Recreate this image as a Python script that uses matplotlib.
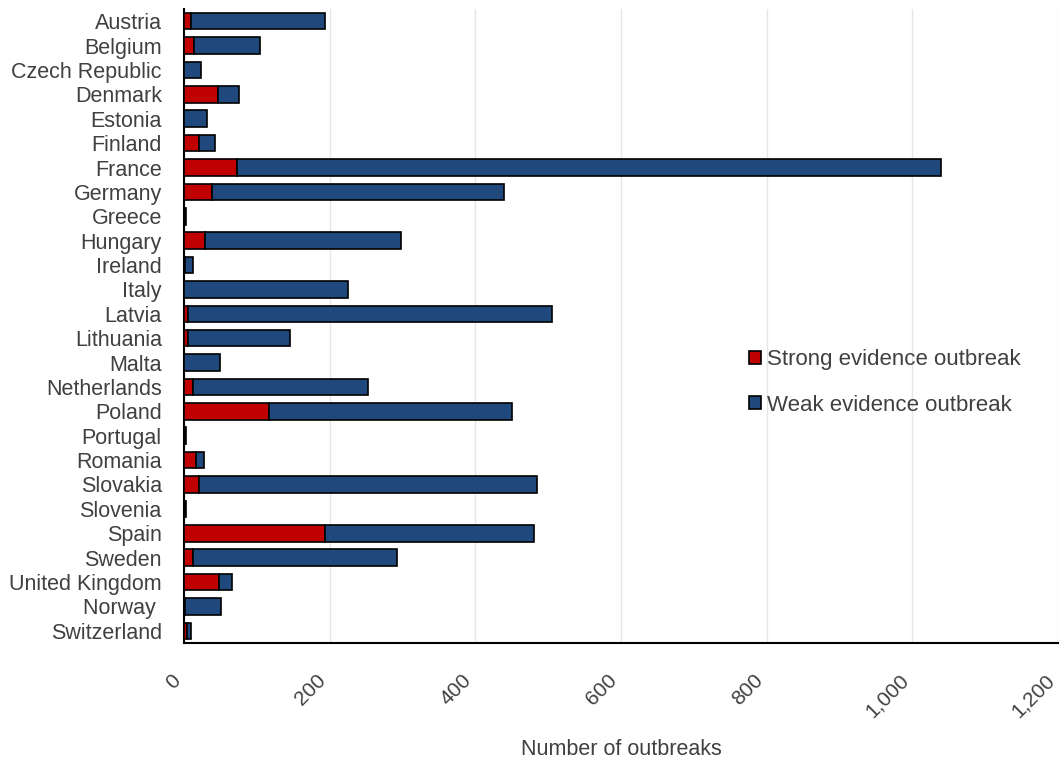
import matplotlib
matplotlib.use("Agg")
import matplotlib.pyplot as plt
import numpy as np
from matplotlib.ticker import FuncFormatter

countries = ["Austria", "Belgium", "Czech Republic", "Denmark", "Estonia", "Finland",
             "France", "Germany", "Greece", "Hungary", "Ireland", "Italy", "Latvia",
             "Lithuania", "Malta", "Netherlands", "Poland", "Portugal", "Romania",
             "Slovakia", "Slovenia", "Spain", "Sweden", "United Kingdom", "Norway ",
             "Switzerland"]
strong = [9, 14, 0, 46, 0, 21, 73, 38, 1, 29, 2, 0, 5,
          5, 0, 12, 117, 1, 16, 20, 1, 194, 12, 48, 2, 4]
total = [193, 105, 24, 75, 32, 42, 1040, 439, 3, 298, 12, 225, 505,
         146, 49, 252, 451, 3, 27, 485, 3, 480, 293, 66, 51, 10]
weak = [t - s for t, s in zip(total, strong)]

series_labels = ["Strong evidence outbreak", "Weak evidence outbreak"]
xticks = [0, 200, 400, 600, 800, 1000, 1200]

plt.rcParams['font.family'] = ['Liberation Sans', 'DejaVu Sans']
txt = '#404040'
red = '#C00000'
blue = '#1F497D'

fig = plt.figure(figsize=(10.62, 7.63), dpi=100)
ax = fig.add_axes([184/1062, 120/763, 874/1062, 634/763])

y = np.arange(len(countries))
ax.barh(y, strong, height=0.68, color=red, edgecolor='black', linewidth=1.2,
        label=series_labels[0], zorder=3)
ax.barh(y, weak, left=strong, height=0.68, color=blue, edgecolor='black', linewidth=1.2,
        label=series_labels[1], zorder=3)

ax.set_ylim(len(countries) - 0.5, -0.5)
ax.set_xlim(0, 1200)
ax.set_yticks(y)
ax.set_yticklabels(countries, fontsize=15.5, color=txt)
ax.set_xticks(xticks)
ax.xaxis.set_major_formatter(FuncFormatter(lambda v, p: f"{int(v):,}"))
for lab in ax.get_xticklabels():
    lab.set_rotation(45)
    lab.set_ha('right')
    lab.set_fontsize(15)
    lab.set_color(txt)
ax.tick_params(axis='x', length=0, pad=20)
ax.tick_params(axis='y', length=0, pad=16)
ax.grid(axis='x', color='#E6E6E6', linewidth=1, zorder=0)
for s in ['top', 'right']:
    ax.spines[s].set_visible(False)
ax.spines['left'].set_color('black')
ax.spines['left'].set_linewidth(1.5)
ax.spines['bottom'].set_color('black')
ax.spines['bottom'].set_linewidth(1.5)
ax.set_xlabel("Number of outbreaks", fontsize=15.5, color=txt, labelpad=13)

leg = ax.legend(loc='upper left', bbox_to_anchor=(0.623, 0.495), frameon=False,
                fontsize=16, handlelength=0.55, handleheight=0.55, handletextpad=0.3,
                labelspacing=1.1, labelcolor=txt)

fig.savefig("out.png", dpi=100)
